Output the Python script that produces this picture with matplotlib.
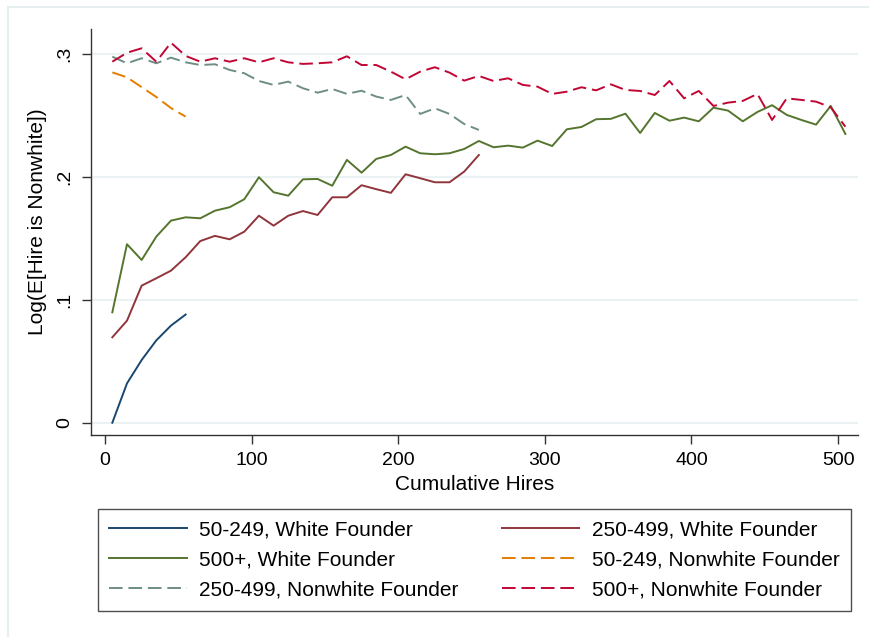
import numpy as np
import matplotlib
matplotlib.use("Agg")
import matplotlib.pyplot as plt
from matplotlib.lines import Line2D

plt.rcParams['font.family'] = ['Liberation Sans', 'DejaVu Sans']

# cumulative hires grid (bins of 10)
hires = np.arange(5, 515, 10)

blue_white = [0.000, 0.032, 0.051, 0.067, 0.079, 0.088]
orange_nonwhite = [0.285, 0.281, 0.273, 0.265, 0.256, 0.249]

red_white = [0.0695, 0.083, 0.1115, 0.1175, 0.1237, 0.1346, 0.1478, 0.152, 0.1492, 0.1554,
             0.1684, 0.1603, 0.1684, 0.1722, 0.169, 0.1834, 0.1834, 0.1932, 0.190, 0.187,
             0.2021, 0.1989, 0.1956, 0.1956, 0.2043, 0.2178]

teal_nonwhite = [0.2978, 0.2924, 0.2965, 0.2924, 0.297, 0.2932, 0.291, 0.2916, 0.287, 0.2843,
                 0.278, 0.2748, 0.2775, 0.2721, 0.2685, 0.2715, 0.2675, 0.2701, 0.2653, 0.2626,
                 0.2666, 0.2512, 0.2558, 0.2512, 0.243, 0.2382]

green_white = [0.0898, 0.1452, 0.1324, 0.1514, 0.1644, 0.1671, 0.1663, 0.1725, 0.1753, 0.1818,
               0.1997, 0.1875, 0.1847, 0.198, 0.1983, 0.1928, 0.2138, 0.2034, 0.2146, 0.2178,
               0.2246, 0.2192, 0.2184, 0.2192, 0.2227, 0.2292, 0.2241, 0.2254, 0.2238, 0.2295,
               0.2251, 0.2387, 0.2406, 0.2469, 0.2472, 0.2514, 0.2357, 0.252, 0.2457, 0.2482,
               0.2452, 0.2563, 0.2539, 0.2452, 0.2528, 0.2583, 0.2504, 0.2463, 0.2425, 0.2577,
               0.2349]

crimson_nonwhite = [0.2937, 0.301, 0.3046, 0.2937, 0.3092, 0.2984, 0.2937, 0.2965, 0.2937, 0.2965,
                    0.2932, 0.2965, 0.2932, 0.2919, 0.2924, 0.2932, 0.2981, 0.291, 0.291, 0.2856,
                    0.2794, 0.2856, 0.2892, 0.2848, 0.2783, 0.2821, 0.278, 0.2802, 0.2748, 0.2734,
                    0.2675, 0.2693, 0.2729, 0.2704, 0.2753, 0.2707, 0.2699, 0.2666, 0.278, 0.2639,
                    0.2699, 0.2577, 0.2604, 0.2618, 0.2675, 0.2463, 0.2639, 0.2626, 0.2612, 0.2566,
                    0.2408]

labels = ["50-249, White Founder", "250-499, White Founder", "500+, White Founder",
          "50-249, Nonwhite Founder", "250-499, Nonwhite Founder", "500+, Nonwhite Founder"]
colors = ["#1a476f", "#90353b", "#55752f", "#e37e00", "#6e8e84", "#c10534"]
series = [blue_white, red_white, green_white, orange_nonwhite, teal_nonwhite, crimson_nonwhite]
styles = ["-", "-", "-", "--", "--", "--"]

fig = plt.figure(figsize=(8.7, 6.37), dpi=100)
ax = fig.add_axes([90.7 / 870, 1 - 435 / 637, (858 - 90.7) / 870, (435 - 29) / 637])

# faint graph-region border (Stata look)
fig.add_artist(Line2D([8 / 870, 1], [1 - 6.7 / 637] * 2, color="#e6eef0", lw=1.5))
fig.add_artist(Line2D([8 / 870] * 2, [0, 1 - 6.7 / 637], color="#e6eef0", lw=1.5))

handles = []
for y, c, ls, lab in zip(series, colors, styles, labels):
    ln, = ax.plot(hires[:len(y)], y, color=c, lw=1.4, ls=ls, label=lab)
    if ls == "--":
        ln.set_dashes((7, 3))
    handles.append(ln)

ax.set_xlim(-9.75, 513.6)
ax.set_ylim(-0.010, 0.3203)
ax.set_xticks([0, 100, 200, 300, 400, 500])
ax.set_yticks([0, 0.1, 0.2, 0.3])
ax.set_yticklabels(["0", ".1", ".2", ".3"], rotation=90, va="center")
ax.tick_params(axis="both", labelsize=14, length=6.5, width=1, color="#333333", pad=6)
ax.grid(axis="y", color="#eaf2f3", lw=1.5)
ax.set_axisbelow(True)
for s in ["top", "right"]:
    ax.spines[s].set_visible(False)
for s in ["left", "bottom"]:
    ax.spines[s].set_color("#333333")
    ax.spines[s].set_linewidth(1)

ax.set_xlabel("Cumulative Hires", fontsize=15, labelpad=4)
ax.set_ylabel("Log(E[Hire is Nonwhite])", fontsize=15)
ax.yaxis.set_label_coords(-0.0573, 0.525)

# legend filled row by row, as in the original
order = [0, 2, 4, 1, 3, 5]
leg = fig.legend([handles[i] for i in order], [labels[i] for i in order],
                 loc="lower left", ncol=2, mode="expand",
                 bbox_to_anchor=(98 / 870, 1 - 611 / 637, (851 - 98) / 870, (611 - 509) / 637),
                 fontsize=15, handlelength=3.7, handletextpad=0.6, labelspacing=0.54,
                 fancybox=False, frameon=True, borderaxespad=0, borderpad=0.55)
leg.get_frame().set_edgecolor("#222222")
leg.get_frame().set_linewidth(1)

fig.savefig("out.png", dpi=100)
